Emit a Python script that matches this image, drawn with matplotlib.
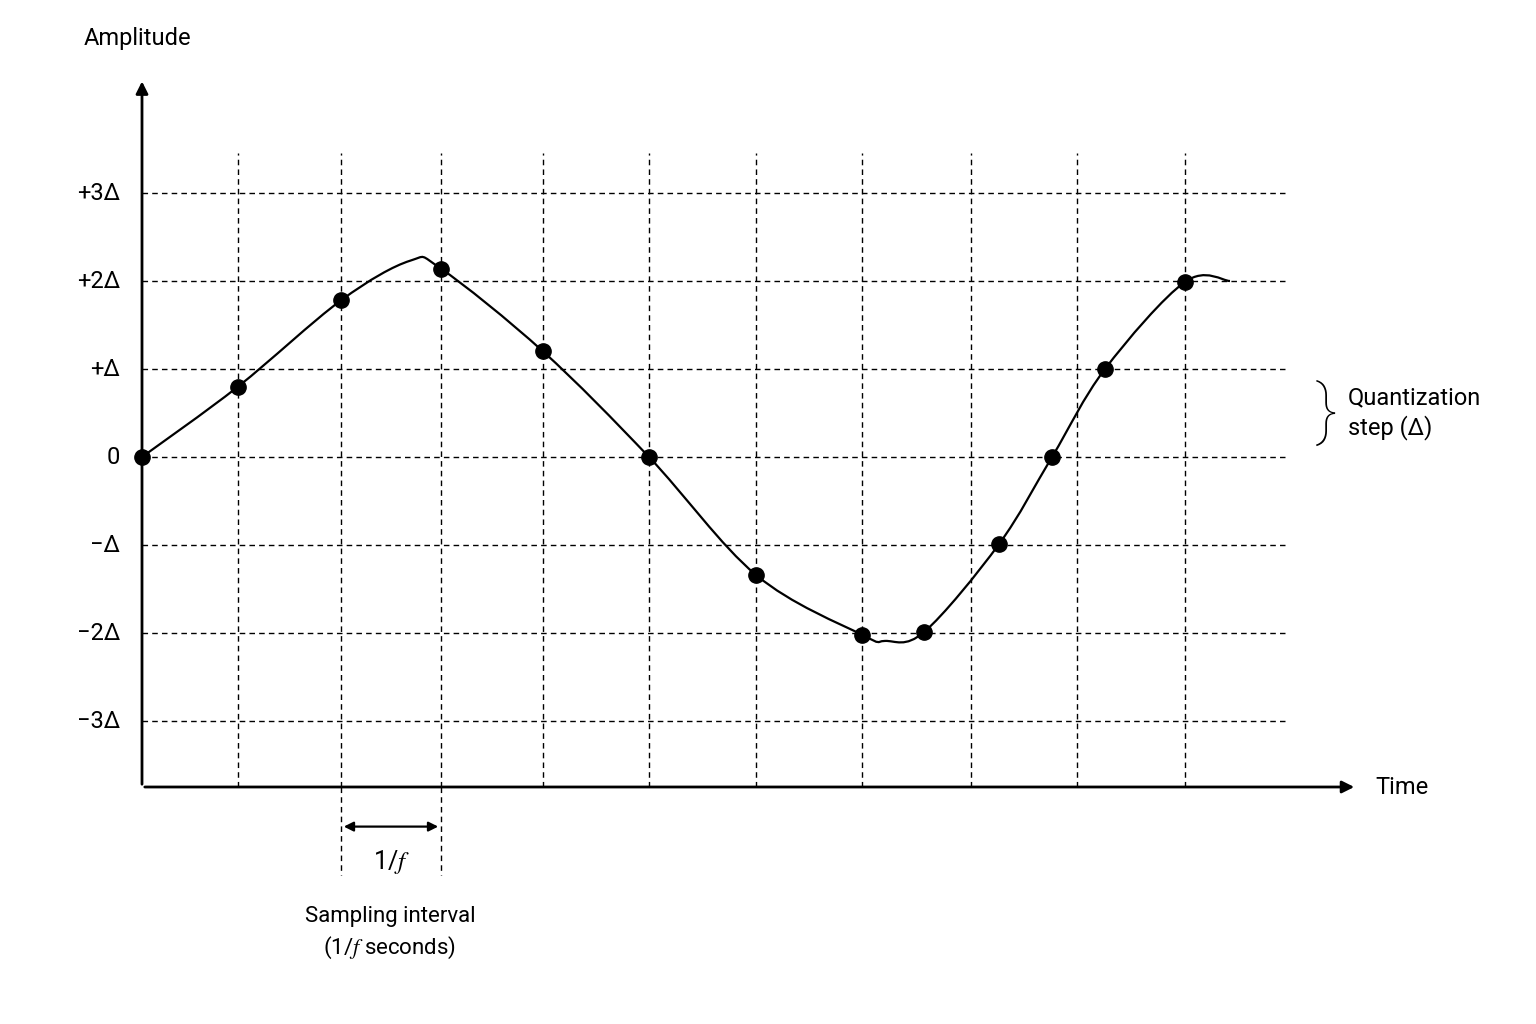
import numpy as np
import matplotlib
matplotlib.use("Agg")
import matplotlib.pyplot as plt
from matplotlib.path import Path
from matplotlib.patches import PathPatch

plt.rcParams["font.family"] = ["Roboto", "DejaVu Sans"]
plt.rcParams["mathtext.fontset"] = "stix"

# x in sample-grid units (~1 per interval), y in units of the quantization step
grid_x = [0.96, 1.99, 2.99, 4.01, 5.07, 6.14, 7.20, 8.29, 9.35, 10.43]
levels = [3, 2, 1, 0, -1, -2, -3]
level_labels = ["+3Δ", "+2Δ", "+Δ", "0", "−Δ", "−2Δ", "−3Δ"]

sample_x = [0.0, 0.96, 1.99, 2.99, 4.01, 5.07, 6.14, 7.20, 7.82, 8.57, 9.10, 9.63, 10.43]
sample_y = [0.0, 0.80, 1.78, 2.14, 1.20, 0.0, -1.34, -2.02, -1.99, -0.99, 0.0, 1.0, 1.99]

curve_x = [0.0, 0.96, 1.99, 2.68, 2.99, 4.01, 5.07, 6.14, 7.20, 7.43, 7.82, 8.57, 9.10, 9.63, 10.43, 10.88]
curve_y = [0.0, 0.80, 1.78, 2.23, 2.14, 1.20, 0.0, -1.34, -2.02, -2.09, -1.99, -0.99, 0.0, 1.0, 1.99, 2.0]

fig = plt.figure(figsize=(15.36, 10.24), dpi=100)
ax = fig.add_axes([0, 0, 1, 1])
ax.set_xlim(-1.42, 13.94)
ax.set_ylim((457 - 1024) / 88, 457 / 88)
ax.axis("off")

y_bot = -3.75
grid_kw = dict(color="black", linestyle=(0, (4, 3)), linewidth=1.0)
for gx in grid_x:
    ax.plot([gx, gx], [y_bot, 3.45], **grid_kw)
for gx in (1.99, 2.99):
    ax.plot([gx, gx], [y_bot, -4.75], **grid_kw)
for lv, lab in zip(levels, level_labels):
    ax.plot([0, 11.43], [lv, lv], **grid_kw)
    ax.text(-0.22, lv, lab, ha="right", va="center", fontsize=17)

# axes arrows
ax.annotate("", xy=(0, 4.3), xytext=(0, y_bot),
            arrowprops=dict(arrowstyle="-|>", color="black", lw=2, mutation_scale=18))
ax.annotate("", xy=(12.15, y_bot), xytext=(0, y_bot),
            arrowprops=dict(arrowstyle="-|>", color="black", lw=2, mutation_scale=18))
ax.text(-0.05, 4.75, "Amplitude", ha="center", va="center", fontsize=17)
ax.text(12.33, y_bot, "Time", ha="left", va="center", fontsize=17)

# smooth curve (Catmull-Rom -> cubic Bezier)
pts = np.column_stack([curve_x, curve_y])
ext = np.vstack([pts[0], pts, pts[-1]])
verts = [tuple(pts[0])]
codes = [Path.MOVETO]
for i in range(1, len(ext) - 2):
    p0, p1, p2, p3 = ext[i - 1], ext[i], ext[i + 1], ext[i + 2]
    verts += [tuple(p1 + (p2 - p0) / 6), tuple(p2 - (p3 - p1) / 6), tuple(p2)]
    codes += [Path.CURVE4] * 3
ax.add_patch(PathPatch(Path(verts, codes), fill=False, lw=1.6, color="black"))
ax.plot(sample_x, sample_y, "o", color="black", markersize=11, zorder=5)

# sampling interval
ax.annotate("", xy=(1.99, -4.2), xytext=(2.99, -4.2),
            arrowprops=dict(arrowstyle="<|-|>", color="black", lw=1.6, mutation_scale=14))
ax.text(2.49, -4.6, r"1/$f$", ha="center", va="center", fontsize=18)
ax.text(2.48, -5.1, "Sampling interval\n" + r"(1/$f$ seconds)", ha="center", va="top",
        fontsize=16, linespacing=1.4)

# quantization step brace
ax.text(11.85, 0.5, "}", ha="center", va="center", fontsize=48, fontweight="light")
ax.text(12.06, 0.5, "Quantization\nstep (Δ)", ha="left", va="center", fontsize=17,
        linespacing=1.3)

fig.savefig("out.png", dpi=100)
